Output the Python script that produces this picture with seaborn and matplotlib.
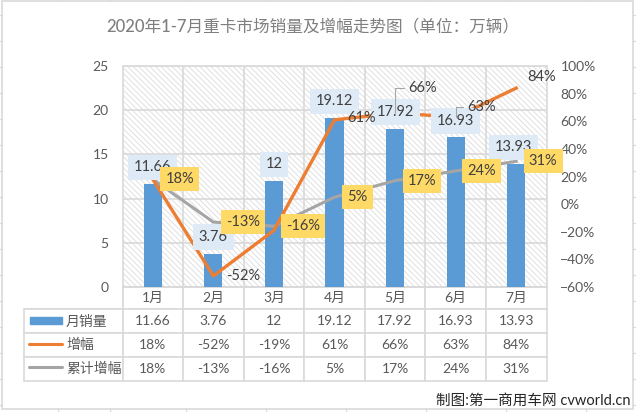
import pandas as pd
import numpy as np
import matplotlib.pyplot as plt
import seaborn as sns
from matplotlib.lines import Line2D
from matplotlib.patches import Rectangle
from matplotlib.ticker import PercentFormatter

plt.rcParams['font.family'] = ['Lato', 'Noto Sans CJK SC', 'DejaVu Sans']
plt.rcParams['hatch.linewidth'] = 0.6

W, H = 636, 412
GRID = '#d9d9d9'
TEXT = '#595959'

def load_data():
    df = pd.DataFrame({
        'month': ['1月', '2月', '3月', '4月', '5月', '6月', '7月'],
        'sales': [11.66, 3.76, 12, 19.12, 17.92, 16.93, 13.93],
        'growth': [18, -52, -19, 61, 66, 63, 84],
        'cumulative': [18, -13, -16, 5, 17, 24, 31],
    })
    return df

def draw_frame(fig):
    # Sheet border and the stubs of the spreadsheet cells behind the picture
    fig.add_artist(Rectangle((2 / W, 1 - 409 / H), 631 / W, 408 / H, fill=False,
                             edgecolor=GRID, linewidth=1.2, transform=fig.transFigure))
    for y in np.arange(15, 410, 26):
        fig.add_artist(Line2D([0, 2 / W], [1 - y / H, 1 - y / H], color=GRID, linewidth=0.8))
        fig.add_artist(Line2D([633 / W, 1], [1 - y / H, 1 - y / H], color=GRID, linewidth=0.8))
    for x in [58, 110, 186, 266, 346, 426, 506, 586]:
        fig.add_artist(Line2D([x / W, x / W], [1, 1 - 1 / H], color=GRID, linewidth=0.8))
        fig.add_artist(Line2D([x / W, x / W], [1 - 409 / H, 0], color=GRID, linewidth=0.8))

def draw_table(ax, df):
    rows = [[''] + list(df['month']),
            [''] + [f'{v:g}' for v in df['sales']],
            [''] + [f'{v}%' for v in df['growth']],
            [''] + [f'{v}%' for v in df['cumulative']]]
    # Table runs from x=24 to the right edge of the plot, y=287 to y=381
    ax_w = 424.0
    ax_h = 221.0
    left = (24 - 122.5) / ax_w
    table = ax.table(cellText=rows, cellLoc='center',
                     colWidths=[98.5 / ax_w] + [1 / 7] * 7,
                     bbox=[left, -94 / ax_h, 1 - left, 94 / ax_h])
    table.auto_set_font_size(False)
    heights = [22, 24, 24, 24]
    for (r, c), cell in table.get_celld().items():
        cell.set_height(heights[r] / ax_h)
        cell.set_edgecolor(GRID)
        cell.set_linewidth(1.2)
        cell.set_facecolor('white')
        cell.get_text().set_color(TEXT)
        cell.get_text().set_fontsize(10)
    table[(0, 0)].visible_edges = 'BR'

def draw_legend_keys(fig):
    # Keys of the data table, left of the row values
    labels = ['月销量', '增幅', '累计增幅']
    ys = [321, 344, 368]
    fig.add_artist(Rectangle((30 / W, 1 - 324 / H), 32 / W, 7 / H, color='#5b9bd5',
                             transform=fig.transFigure))
    fig.add_artist(Line2D([29 / W, 62 / W], [1 - 344 / H, 1 - 344 / H], color='#ed7d31',
                          linewidth=2.2, solid_capstyle='round'))
    fig.add_artist(Line2D([29 / W, 62 / W], [1 - 367 / H, 1 - 367 / H], color='#a5a5a5',
                          linewidth=2.2, solid_capstyle='round'))
    for label, y in zip(labels, ys):
        fig.text(66 / W, 1 - y / H, label, color=TEXT, fontsize=10, va='center', ha='left')

def label_points(ax, bar_ax, df):
    # Blue boxes for the sales values
    bar_dx = [0, 0, 0, 0, 0, 0, -3]
    for i, v in enumerate(df['sales']):
        ax.annotate(f'{v:g}', xy=(i, v), xycoords=bar_ax.transData,
                    xytext=(bar_dx[i], 16.5), textcoords='offset pixels',
                    ha='center', va='center', fontsize=10.5, color='#404040', zorder=6,
                    bbox=dict(boxstyle='square,pad=0.4', facecolor='#deebf7', edgecolor='none'))

    # Growth labels without a box
    growth_pos = {1: (30, 0), 3: (27, 2), 4: (27, 25), 5: (26, 10), 6: (25, 11)}
    for i, offset in growth_pos.items():
        v = df['growth'][i]
        leader = None
        if i in (4, 5):
            leader = dict(arrowstyle='-', color='#a6a6a6', linewidth=0.8, shrinkA=1, shrinkB=0,
                          relpos=(0, 0.5), connectionstyle='angle,angleA=0,angleB=90,rad=0')
        ax.annotate(f'{v}%', xy=(i, v), xytext=offset, textcoords='offset pixels',
                    ha='center', va='center', fontsize=10.5, color='#404040', zorder=8,
                    arrowprops=leader)

    # Yellow boxes for the cumulative growth
    cum_dx = [27, 30, 29, 23, 27, 26, 27]
    for i, v in enumerate(df['cumulative']):
        ax.annotate(f'{v}%', xy=(i, v), xytext=(cum_dx[i], 0), textcoords='offset pixels',
                    ha='center', va='center', fontsize=10.5, color='#404040', zorder=7,
                    bbox=dict(boxstyle='square,pad=0.35', facecolor='#ffd966', edgecolor='none'))

def make_chart(df):
    fig = plt.figure(figsize=(6.36, 4.12), dpi=100)
    ax = fig.add_axes([122.5 / W, 1 - 287 / H, 424 / W, 221 / H])

    sns.barplot(x='month', y='sales', data=df, color='#5b9bd5', saturation=1, width=0.3, ax=ax, zorder=3)
    ax.set_xlim(-0.5, 6.5)
    ax.set_ylim(0, 25)
    ax.set_yticks(range(0, 30, 5))
    ax.set_xticks(np.arange(0.5, 6), minor=True)
    ax.set_xlabel('')
    ax.set_ylabel('')
    ax.set_axisbelow(True)
    ax.patch.set_edgecolor('#dcdcdc')
    ax.patch.set_hatch('\\\\\\\\\\\\')
    ax.grid(axis='y', color=GRID, linewidth=1.2)
    ax.grid(axis='x', which='minor', color=GRID, linewidth=1.2)
    ax.tick_params(axis='x', which='both', length=0, labelbottom=False)
    ax.tick_params(axis='y', length=0, pad=10, labelsize=10, labelcolor=TEXT)
    for spine in ax.spines.values():
        spine.set_color(GRID)
        spine.set_linewidth(1.2)

    ax2 = ax.twinx()
    sns.lineplot(x='month', y='cumulative', data=df, color='#a5a5a5', linewidth=2.2, sort=False, ax=ax2)
    sns.lineplot(x='month', y='growth', data=df, color='#ed7d31', linewidth=2.4, sort=False, ax=ax2)
    ax2.set_ylim(-60, 100)
    ax2.set_yticks(range(-60, 120, 20))
    ax2.yaxis.set_major_formatter(PercentFormatter(100, decimals=0))
    ax2.set_ylabel('')
    ax2.tick_params(axis='y', length=0, pad=10, labelsize=10, labelcolor=TEXT)
    for spine in ax2.spines.values():
        spine.set_visible(False)

    draw_table(ax, df)
    label_points(ax2, ax, df)
    draw_frame(fig)
    draw_legend_keys(fig)

    fig.text(313 / W, 1 - 26 / H, '2020年1-7月重卡市场销量及增幅走势图（单位：万辆）',
             ha='center', va='center', fontsize=12, color='#7f7f7f', fontweight='medium')
    fig.text(630 / W, 1 - 401 / H, '制图:第一商用车网 cvworld.cn', ha='right', va='center',
             fontsize=10.5, color='#262626')

    fig.savefig('out.png', dpi=100)
    plt.close(fig)

if __name__ == "__main__":
    sales_data = load_data()
    make_chart(sales_data)
